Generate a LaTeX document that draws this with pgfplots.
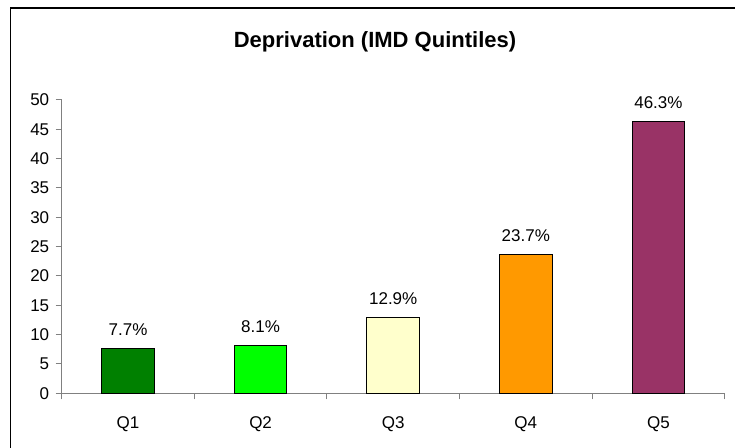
\documentclass[border=0pt]{standalone}
\usepackage{pgfplots}
\pgfplotsset{compat=1.18}
\usepackage{fontspec}
\setmainfont{Liberation Sans}
\definecolor{qone}{HTML}{008000}
\definecolor{qtwo}{HTML}{00FF00}
\definecolor{qthree}{HTML}{FFFFCC}
\definecolor{qfour}{HTML}{FF9900}
\definecolor{qfive}{HTML}{993366}
\definecolor{axgray}{HTML}{808080}
\begin{document}
\begin{tikzpicture}[x=1bp,y=1bp]
\useasboundingbox (0,0) rectangle (735,448);
\draw[line width=1.6bp,black] (10.5,0) -- (10.5,440) -- (735,440);
\node[font=\fontsize{22bp}{26bp}\selectfont\bfseries] at (375,406.3) {Deprivation (IMD Quintiles)};
\begin{axis}[
  at={(61.7bp,54.7bp)}, anchor=south west,
  scale only axis, width=663bp, height=293.3bp,
  xmin=-0.5, xmax=4.5, ymin=0, ymax=50,
  axis x line*=bottom, axis y line*=left,
  axis line style={axgray, line width=1bp},
  tick style={axgray, line width=1bp},
  tick align=outside,
  major tick length=6bp,
  minor tick length=6bp,
  xtick={0,1,2,3,4},
  xticklabels={Q1,Q2,Q3,Q4,Q5},
  major x tick style={draw=none},
  minor xtick={-0.5,0.5,1.5,2.5,3.5,4.5},
  ytick={0,5,...,50},
  ymajorgrids=false,
  /pgf/number format/assume math mode=true,
  tick label style={font=\fontsize{17bp}{20bp}\selectfont, text=black},
  xticklabel style={anchor=base, yshift=-29.7bp},
  yticklabel style={anchor=east, xshift=-3bp},
  ybar, bar width=52.7bp, bar shift=0pt,
  point meta=y,
  nodes near coords={\pgfmathprintnumber[fixed,precision=1,fixed zerofill]{\pgfplotspointmeta}\%},
  every node near coord/.append style={font=\fontsize{17bp}{20bp}\selectfont, anchor=base, yshift=13bp, text=black},
  clip=false,
]
\addplot[draw=black, line width=1bp, fill=qone] coordinates {(0,7.7)};
\addplot[draw=black, line width=1bp, fill=qtwo] coordinates {(1,8.1)};
\addplot[draw=black, line width=1bp, fill=qthree] coordinates {(2,12.9)};
\addplot[draw=black, line width=1bp, fill=qfour] coordinates {(3,23.7)};
\addplot[draw=black, line width=1bp, fill=qfive] coordinates {(4,46.3)};
\end{axis}
\end{tikzpicture}
\end{document}
